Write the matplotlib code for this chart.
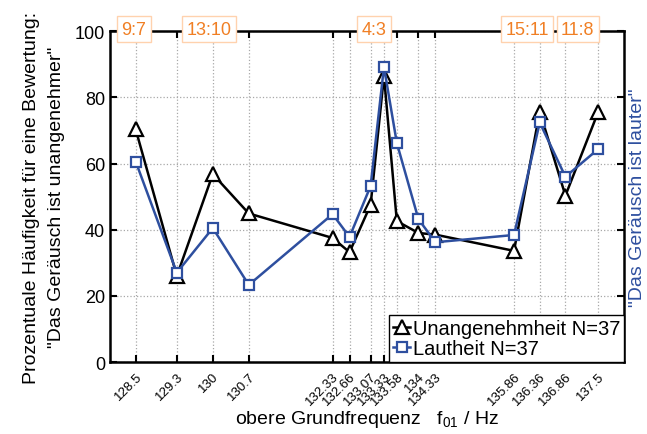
import numpy as np
import matplotlib
matplotlib.use("Agg")
import matplotlib.pyplot as plt

plt.rcParams['font.family'] = ['Liberation Sans', 'DejaVu Sans']

freq = [128.5, 129.3, 130, 130.7, 132.33, 132.66, 133.07, 133.33, 133.58,
        134, 134.33, 135.86, 136.36, 136.86, 137.5]
freq_labels = ["128.5", "129.3", "130", "130.7", "132.33", "132.66", "133.07",
               "133.33", "133.58", "134", "134.33", "135.86", "136.36",
               "136.86", "137.5"]
unangenehm = [70.3, 26.0, 56.8, 44.9, 37.5, 33.2, 47.5, 86.5, 42.6,
              39.0, 38.5, 33.6, 75.7, 50.3, 75.7]
lautheit = [60.6, 27.0, 40.5, 23.3, 44.7, 37.8, 53.2, 89.2, 66.2,
            43.2, 36.2, 38.4, 72.4, 56.0, 64.4]

ratio_text = ["9:7", "13:10", "4:3", "15:11", "11:8"]
ratio_pos = [128.46, 129.93, 133.14, 136.11, 137.10]

blue = '#2e4f9f'
orange = '#f07f24'

fig = plt.figure(figsize=(6.47, 4.35), dpi=100)
ax = fig.add_axes([0.170, 0.1655, 0.7945, 0.7605])

ax.plot(freq, unangenehm, '-^', color='k', lw=1.8, ms=9.5, mfc='white',
        mec='k', mew=1.6, label='Unangenehmheit N=37', zorder=3)
ax.plot(freq, lautheit, '-s', color=blue, lw=1.8, ms=7, mfc='white',
        mec=blue, mew=1.6, label='Lautheit N=37', zorder=4)

ax.set_xlim(128, 138)
ax.set_ylim(0, 100)
ax.set_xticks(freq)
ax.set_xticklabels(freq_labels, rotation=45, ha='right', va='top',
                   rotation_mode='anchor', fontsize=9.5)
ax.set_yticks([0, 20, 40, 60, 80, 100])
ax.tick_params(axis='y', labelsize=13)
ax.tick_params(direction='in', top=True, right=True, length=5, width=1.5)
ax.tick_params(axis='x', pad=6)
for s in ax.spines.values():
    s.set_linewidth(1.8)

ax.grid(True, ls=':', color='#a8a8a8', lw=0.9)
ax.set_axisbelow(True)

for t, x in zip(ratio_text, ratio_pos):
    ax.text(x, 100.6, t, color=orange, fontsize=13, ha='center', va='center',
            bbox=dict(boxstyle='square,pad=0.25', fc='white', ec='#ffd2ae', lw=1),
            clip_on=False, zorder=10)

ax.set_xlabel(r'obere Grundfrequenz   f$_{\mathregular{01}}$ / Hz', fontsize=14)
ax.xaxis.set_label_coords(0.5, -0.14)
ax.set_ylabel('Prozentuale Häufigkeit für eine Bewertung:\n"Das Geräusch ist unangenehmer"',
              fontsize=14, linespacing=1.6)
ax.yaxis.set_label_coords(-0.087, 0.5)
fig.text(0.985, 0.5455, '"Das Geräusch ist lauter"', color=blue, fontsize=14,
         rotation=90, ha='center', va='center')

leg = ax.legend(loc='lower right', borderaxespad=0, fontsize=14.5,
                handlelength=0.8, handletextpad=0.15, borderpad=0.2,
                labelspacing=0.05, fancybox=False, framealpha=1)
leg.get_frame().set_edgecolor('k')
leg.get_frame().set_linewidth(1.0)

fig.savefig('out.png', dpi=100)
